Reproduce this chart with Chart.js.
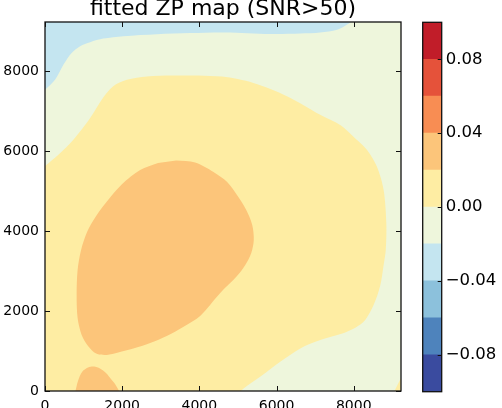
<!DOCTYPE html>
<html>
<head>
<meta charset="utf-8">
<script src="https://cdn.jsdelivr.net/npm/chart.js@4.4.1/dist/chart.umd.min.js"></script>
<style>
  html, body { margin: 0; padding: 0; background: #fff; }
  #wrap { position: relative; width: 502px; height: 408px; overflow: hidden; }
  #map { position: absolute; left: 0; top: 0; }
  #cbar { position: absolute; left: 400px; top: 0; }
</style>
</head>
<body>
<div id="wrap">
  <canvas id="map" width="502" height="408"></canvas>
  <canvas id="cbar" width="102" height="408"></canvas>
</div>
<script>
// axis range (pixels on the detector)
const xMax = 9225;
const yMax = 9225;
const xTicks = [0, 2000, 4000, 6000, 8000];
const yTicks = [0, 2000, 4000, 6000, 8000];

// colour levels of the colour bar
const cbLevels = [-0.10, -0.08, -0.06, -0.04, -0.02, 0.00, 0.02, 0.04, 0.06, 0.08, 0.10];
const cbColors = ['#3a4b9f', '#4e83bc', '#8cc1dc', '#c4e5f0', '#eef6dc',
                  '#feeda3', '#fcc57a', '#f88d53', '#e5523a', '#c11d29'];
const cbTicks = [-0.08, -0.04, 0.00, 0.04, 0.08];

// contour regions as [x, y] boundary points
const bgPts = [[0, 0], [xMax, 0], [xMax, yMax], [0, yMax]];
const bluePts = [[0, 7530], [260, 7780], [480, 8160], [690, 8450], [910, 8620], [1170, 8720],
  [1510, 8810], [2030, 8870], [2900, 8920], [3760, 8950], [4670, 8965], [5840, 8925],
  [6620, 8935], [7130, 8960], [7570, 9030], [7830, 9160], [7910, 9225], [0, 9225]];
const yellowPts = [[0, 5625], [340, 5900], [730, 6275], [1170, 6825], [1500, 7325], [1760, 7615],
  [2120, 7780], [2640, 7865], [3330, 7890], [4590, 7860], [5400, 7700], [6270, 7370],
  [7130, 6905], [7650, 6650], [8085, 6275], [8345, 6025], [8600, 5610], [8775, 5025],
  [8845, 4190], [8830, 3525], [8775, 3150], [8690, 2650], [8515, 2150], [8255, 1730],
  [7825, 1480], [7135, 1275], [6615, 1065], [6095, 730], [5575, 355], [5145, 65],
  [5060, 0], [0, 0]];
const yellowCornerPts = [[9055, 0], [9225, 325], [9225, 0]];
const orangePts = [[3400, 5760], [3890, 5710], [4365, 5475], [4720, 5225], [4975, 4900],
  [5215, 4525], [5370, 4150], [5410, 3775], [5345, 3450], [5190, 3150], [4975, 2875],
  [4540, 2450], [4020, 1875], [3580, 1600], [3155, 1375], [2725, 1200], [2290, 1060],
  [1895, 960], [1600, 900], [1325, 935], [1115, 1125], [950, 1400], [845, 1825],
  [820, 2400], [845, 3025], [935, 3525], [1090, 3975], [1325, 4375], [1635, 4775],
  [2000, 5175], [2465, 5525], [2930, 5700]];
const orangeSmallPts = [[790, 0], [855, 250], [960, 475], [1115, 585], [1270, 610], [1425, 560],
  [1580, 450], [1710, 300], [1815, 175], [1920, 0]];

const FONT = "'DejaVu Sans', sans-serif";
const INK = '#111';

// bottom to top
const regions = [
  { band: 4, pts: bgPts, tension: 0 },
  { band: 3, pts: bluePts },
  { band: 5, pts: yellowPts },
  { band: 5, pts: yellowCornerPts, tension: 0 },
  { band: 6, pts: orangePts },
  { band: 6, pts: orangeSmallPts }
];

const datasets = regions.map((r, i) => ({
  data: r.pts.map(p => ({ x: p[0], y: p[1] })),
  backgroundColor: cbColors[r.band],
  borderColor: 'rgba(0,0,0,0)',
  borderWidth: 0,
  pointRadius: 0,
  fill: 'shape',
  tension: r.tension ?? 0.3,
  order: regions.length - i
}));

function tick(ctx, x1, y1, x2, y2) {
  ctx.beginPath();
  ctx.moveTo(x1, y1);
  ctx.lineTo(x2, y2);
  ctx.stroke();
}

// matplotlib style frame with inward ticks on all four sides
const frameTicks = {
  id: 'frameTicks',
  afterDatasetsDraw(chart) {
    const { ctx, chartArea: a, scales: { x, y } } = chart;
    ctx.save();
    ctx.strokeStyle = INK;
    ctx.lineWidth = 1;
    xTicks.forEach(v => {
      const px = Math.round(x.getPixelForValue(v)) + 0.5;
      tick(ctx, px, a.bottom, px, a.bottom - 5);
      tick(ctx, px, a.top, px, a.top + 5);
    });
    yTicks.forEach(v => {
      const py = Math.round(y.getPixelForValue(v)) + 0.5;
      tick(ctx, a.left, py, a.left + 5, py);
      tick(ctx, a.right, py, a.right - 5, py);
    });
    ctx.lineWidth = 1.3;
    ctx.strokeRect(a.left, a.top, a.right - a.left, a.bottom - a.top);
    ctx.restore();
  }
};

new Chart(document.getElementById('map'), {
  type: 'line',
  data: { datasets },
  options: {
    responsive: false,
    animation: false,
    events: [],
    layout: { padding: { top: 1.6, right: 101, left: 0, bottom: 0 } },
    plugins: {
      legend: { display: false },
      tooltip: { enabled: false },
      title: {
        display: true,
        fullSize: false,
        text: 'fitted ZP map (SNR>50)',
        color: '#000',
        font: { family: FONT, size: 22, weight: 'normal' },
        padding: { top: -6, bottom: 0 }
      }
    },
    scales: {
      x: {
        type: 'linear', min: 0, max: xMax,
        grid: { display: false, drawTicks: false },
        border: { display: false },
        ticks: { color: '#000', font: { family: FONT, size: 14 }, padding: 7, maxRotation: 0,
                 callback: v => String(v) },
        afterBuildTicks: s => { s.ticks = xTicks.map(v => ({ value: v })); },
        afterFit: s => { s.height = 17; }
      },
      y: {
        type: 'linear', min: 0, max: yMax,
        grid: { display: false, drawTicks: false },
        border: { display: false },
        ticks: { color: '#000', font: { family: FONT, size: 14 }, padding: 6,
                 callback: v => String(v) },
        afterBuildTicks: s => { s.ticks = yTicks.map(v => ({ value: v })); },
        afterFit: s => { s.width = 45; }
      }
    }
  },
  plugins: [frameTicks]
});

// colour bar
const cbFrame = {
  id: 'cbFrame',
  afterDatasetsDraw(chart) {
    const { ctx, chartArea: a, scales: { y } } = chart;
    ctx.save();
    ctx.strokeStyle = INK;
    ctx.lineWidth = 1;
    cbTicks.forEach(v => {
      const py = Math.round(y.getPixelForValue(v)) + 0.5;
      tick(ctx, a.right, py, a.right - 4, py);
    });
    ctx.lineWidth = 1.3;
    ctx.strokeRect(a.left, a.top, a.right - a.left, a.bottom - a.top);
    ctx.restore();
  }
};

new Chart(document.getElementById('cbar'), {
  type: 'bar',
  data: {
    labels: [''],
    datasets: cbColors.map((c, i) => ({
      data: [[cbLevels[i], cbLevels[i + 1]]],
      backgroundColor: c,
      borderWidth: 0,
      barPercentage: 1,
      categoryPercentage: 1,
      grouped: false
    }))
  },
  options: {
    responsive: false,
    animation: false,
    events: [],
    layout: { padding: { left: 22.7, top: 22.3, bottom: 16.3, right: 0 } },
    plugins: { legend: { display: false }, tooltip: { enabled: false } },
    scales: {
      x: { display: false },
      y: {
        position: 'right', min: -0.1, max: 0.1,
        grid: { display: false, drawTicks: false },
        border: { display: false },
        ticks: { color: '#000', font: { family: FONT, size: 16.5 }, padding: 4,
                 callback: v => v.toFixed(2).replace('-', '\u2212') },
        afterBuildTicks: s => { s.ticks = cbTicks.map(v => ({ value: v })); },
        afterFit: s => { s.width = 60.3; }
      }
    }
  },
  plugins: [cbFrame]
});
</script>
</body>
</html>
